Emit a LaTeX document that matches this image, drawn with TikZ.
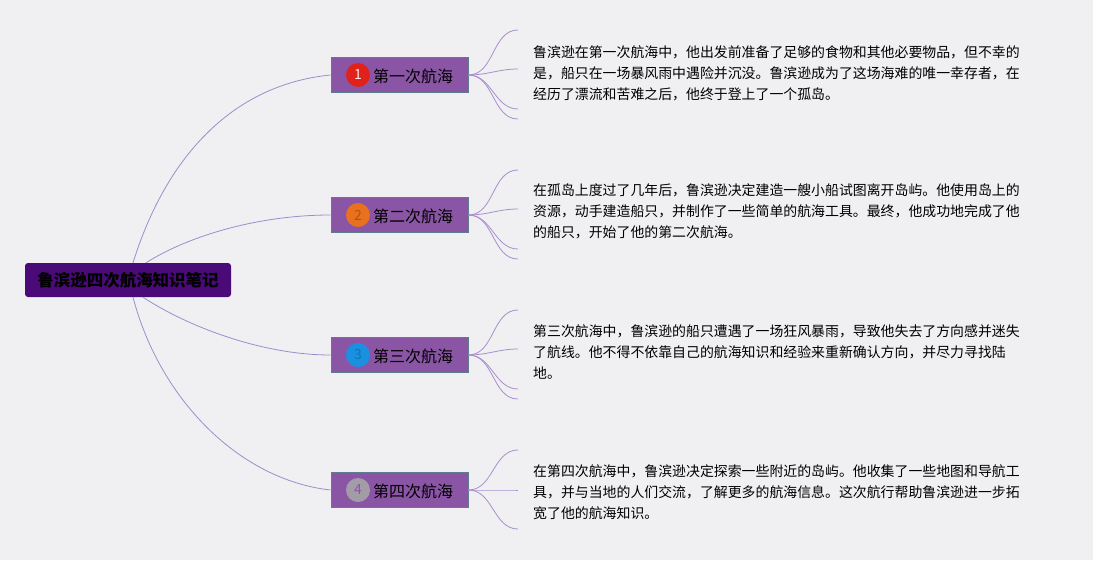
\documentclass[tikz,border=0pt]{standalone}
\usepackage{fontspec}
\setmainfont{Noto Sans CJK SC}
\definecolor{bgc}{HTML}{F0EFF2}
\definecolor{rootc}{HTML}{4A0A78}
\definecolor{topicc}{HTML}{8B55A6}
\definecolor{topicb}{HTML}{5E7C8C}
\definecolor{linkc}{HTML}{9A8FCA}
\definecolor{subc}{HTML}{A88FCC}
\definecolor{n1}{HTML}{E0221A}
\definecolor{n2}{HTML}{E8701E}
\definecolor{n3}{HTML}{1A90E0}
\definecolor{n4}{HTML}{A29CA6}
\begin{document}
\begin{tikzpicture}[x=1pt,y=-1pt,
  rootbox/.style={fill=rootc, rounded corners=3pt, minimum width=206pt, minimum height=34pt, inner sep=0pt, font=\fontsize{16.5}{18}\selectfont\bfseries},
  topicbox/.style={fill=topicc, draw=topicb, line width=0.9pt, minimum width=137pt, minimum height=35pt, inner sep=0pt},
  numdot/.style={circle, minimum size=24pt, inner sep=0pt, font=\fontsize{14}{14}\selectfont},
  ttext/.style={anchor=west, inner sep=0pt, font=\fontsize{16}{16}\selectfont},
  para/.style={anchor=north west, align=left, inner sep=0pt, font=\fontsize{13.9}{21}\selectfont},
  link/.style={draw=linkc, line width=0.8pt},
  sublink/.style={draw=subc, line width=0.8pt}]
\fill[bgc] (0,0) rectangle (1093,560);
\useasboundingbox (0,0) rectangle (1093,560);

% root
\node[rootbox] (root) at (128,280) {鲁滨逊四次航海知识笔记};

% topics
\node[topicbox] (t1) at (399.5,75) {};
\node[topicbox] (t2) at (399.5,215) {};
\node[topicbox] (t3) at (399.5,355) {};
\node[topicbox] (t4) at (399.5,490) {};

\node[numdot, fill=n1, text=white!90!n1] (d1) at (358,75) {1};
\node[numdot, fill=n2, text=black!25!n2] (d2) at (358,215) {2};
\node[numdot, fill=n3, text=black!20!n3] (d3) at (358,355) {3};
\node[numdot, fill=n4, text=topicc] (d4) at (358,490) {4};

\node[ttext] (l1) at (373,76) {第一次航海};
\node[ttext] (l2) at (373,216) {第二次航海};
\node[ttext] (l3) at (373,356) {第三次航海};
\node[ttext] (l4) at (373,491) {第四次航海};

% root connectors
\draw[link] ([xshift=5pt]root.north) .. controls (165,160) and (230,85) .. (t1.west);
\draw[link] ([xshift=18pt]root.north) .. controls (190,235) and (260,215) .. (t2.west);
\draw[link] ([xshift=15pt]root.south) .. controls (185,325) and (260,355) .. (t3.west);
\draw[link] ([xshift=5pt]root.south) .. controls (160,400) and (240,480) .. (t4.west);

% sub-branch ends
\foreach \t/\cy in {1/75,2/215,3/355}{
  \coordinate (e\t a) at (518,\cy-45);
  \coordinate (e\t b) at (518,\cy-6);
  \coordinate (e\t c) at (518,\cy+34);
  \coordinate (e\t d) at (518,\cy+44);
  \foreach \k in {a,b,c,d}{
    \draw[sublink] (t\t.east) to[out=0,in=180] (e\t\k);
  }
}
\coordinate (e4a) at (518,450);
\coordinate (e4b) at (518,490);
\coordinate (e4c) at (518,529);
\foreach \k in {a,b,c}{
  \draw[sublink] (t4.east) to[out=0,in=180] (e4\k);
}

% paragraphs
\node[para] (p1) at (533,45) {鲁滨逊在第一次航海中，他出发前准备了足够的食物和其他必要物品，但不幸的\\是，船只在一场暴风雨中遇险并沉没。鲁滨逊成为了这场海难的唯一幸存者，在\\经历了漂流和苦难之后，他终于登上了一个孤岛。};
\node[para] (p2) at (533,184) {在孤岛上度过了几年后，鲁滨逊决定建造一艘小船试图离开岛屿。他使用岛上的\\资源，动手建造船只，并制作了一些简单的航海工具。最终，他成功地完成了他\\的船只，开始了他的第二次航海。};
\node[para] (p3) at (533,324) {第三次航海中，鲁滨逊的船只遭遇了一场狂风暴雨，导致他失去了方向感并迷失\\了航线。他不得不依靠自己的航海知识和经验来重新确认方向，并尽力寻找陆\\地。};
\node[para] (p4) at (533,464) {在第四次航海中，鲁滨逊决定探索一些附近的岛屿。他收集了一些地图和导航工\\具，并与当地的人们交流，了解更多的航海信息。这次航行帮助鲁滨逊进一步拓\\宽了他的航海知识。};
\end{tikzpicture}
\end{document}
